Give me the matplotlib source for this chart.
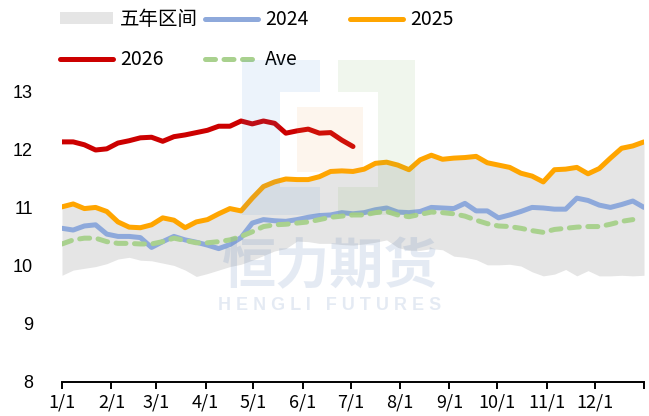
import numpy as np
import pandas as pd
import matplotlib
matplotlib.use("Agg")
import matplotlib.pyplot as plt
from matplotlib.patches import Polygon, Rectangle

# weekly prices, week 0 = Jan 1
band_high = [11.02, 11.07, 10.99, 11.01, 10.94, 10.76, 10.67, 10.66, 10.71, 10.83,
             10.79, 10.66, 10.76, 10.80, 10.90, 10.99, 10.95, 11.17, 11.37, 11.45,
             11.50, 11.49, 11.49, 11.54, 11.63, 11.64, 11.63, 11.67, 11.77, 11.79,
             11.74, 11.66, 11.83, 11.91, 11.84, 11.86, 11.87, 11.89, 11.78, 11.74,
             11.70, 11.60, 11.55, 11.45, 11.66, 11.67, 11.70, 11.59, 11.68, 11.86,
             12.03, 12.07, 12.14]
band_low = [9.84, 9.93, 9.96, 9.99, 10.04, 10.12, 10.15, 10.10, 10.09, 10.05,
            10.01, 9.93, 9.82, 9.87, 9.93, 9.99, 10.03, 10.10, 10.18, 10.26,
            10.30, 10.43, 10.42, 10.39, 10.39, 10.37, 10.36, 10.38, 10.41, 10.45,
            10.32, 10.27, 10.27, 10.30, 10.28, 10.17, 10.15, 10.11, 10.02, 10.02,
            10.03, 10.00, 9.90, 9.83, 9.86, 9.94, 9.83, 9.92, 9.83, 9.83,
            9.84, 9.83, 9.84]
s2024 = [10.65, 10.62, 10.69, 10.71, 10.55, 10.51, 10.51, 10.49, 10.32, 10.42,
         10.51, 10.45, 10.41, 10.36, 10.30, 10.37, 10.49, 10.74, 10.80, 10.78,
         10.77, 10.80, 10.84, 10.87, 10.88, 10.92, 10.90, 10.92, 10.97, 11.00,
         10.93, 10.92, 10.94, 11.01, 11.00, 10.99, 11.08, 10.95, 10.95, 10.83,
         10.88, 10.94, 11.01, 11.00, 10.98, 10.98, 11.17, 11.13, 11.05, 11.01,
         11.06, 11.12, 11.01]
s2025 = [11.02, 11.07, 10.99, 11.01, 10.94, 10.76, 10.67, 10.66, 10.71, 10.83,
         10.79, 10.66, 10.76, 10.80, 10.90, 10.99, 10.95, 11.17, 11.37, 11.45,
         11.50, 11.49, 11.49, 11.54, 11.63, 11.64, 11.63, 11.67, 11.77, 11.79,
         11.74, 11.66, 11.83, 11.91, 11.84, 11.86, 11.87, 11.89, 11.78, 11.74,
         11.70, 11.60, 11.55, 11.45, 11.66, 11.67, 11.70, 11.59, 11.68, 11.86,
         12.03, 12.07, 12.14]
s2026 = [12.14, 12.14, 12.09, 12.00, 12.02, 12.12, 12.16, 12.21, 12.22, 12.15,
         12.23, 12.26, 12.30, 12.34, 12.41, 12.41, 12.50, 12.45, 12.50, 12.46,
         12.29, 12.33, 12.36, 12.29, 12.30, 12.17, 12.06]
ave = [10.38, 10.45, 10.48, 10.48, 10.42, 10.39, 10.39, 10.38, 10.38, 10.42,
       10.48, 10.44, 10.40, 10.40, 10.42, 10.45, 10.51, 10.59, 10.68, 10.71,
       10.72, 10.74, 10.76, 10.80, 10.84, 10.86, 10.88, 10.88, 10.92, 10.94,
       10.88, 10.85, 10.89, 10.93, 10.92, 10.90, 10.86, 10.79, 10.73, 10.69,
       10.68, 10.65, 10.61, 10.58, 10.63, 10.65, 10.67, 10.68, 10.68, 10.72,
       10.77, 10.80]
month_labels = ["1/1", "2/1", "3/1", "4/1", "5/1", "6/1",
                "7/1", "8/1", "9/1", "10/1", "11/1", "12/1"]

cjk = ["Noto Sans CJK SC", "DejaVu Sans"]

# week index -> day of year
days = np.arange(len(band_high)) * 365 / 52
month_days = list(pd.date_range("2025-01-01", periods=12, freq="MS").dayofyear - 1) + [365]

fig = plt.figure(figsize=(6.49, 4.16), dpi=100)
ax = fig.add_axes([62 / 649, 1 - 382 / 416, 582 / 649, 290 / 416])

band = ax.fill_between(days, band_low, band_high, color="#E5E5E5", lw=0, zorder=1,
                       label="五年区间")
l24, = ax.plot(days[:len(s2024)], s2024, color="#8EA9DB", lw=3.6,
               solid_capstyle="round", zorder=3, label="2024")
l25, = ax.plot(days[:len(s2025)], s2025, color="#FFA500", lw=3.6,
               solid_capstyle="round", zorder=4, label="2025")
l26, = ax.plot(days[:len(s2026)], s2026, color="#CC0000", lw=3.6,
               solid_capstyle="round", zorder=5, label="2026")
lave, = ax.plot(days[:len(ave)], ave, color="#A9D18E", lw=3.6, dashes=(2.0, 1.7),
                dash_capstyle="round", zorder=3, label="Ave")

ax.set_xlim(0, 365)
ax.set_ylim(8, 13)
ax.set_xticks(month_days)
ax.set_xticklabels(month_labels + [""], fontfamily=cjk, fontsize=13)
ax.set_yticks([8, 9, 10, 11, 12, 13])
ax.set_yticklabels(["8", "9", "10", "11", "12", "13"], fontfamily="Liberation Sans",
                   fontsize=13)
ax.tick_params(axis="x", direction="out", length=5, width=1.4, pad=3, color="black")
ax.tick_params(axis="y", length=0, pad=21)
for side in ["top", "right", "left"]:
    ax.spines[side].set_visible(False)
ax.spines["bottom"].set_linewidth(1.4)
ax.spines["bottom"].set_color("black")
ax.set_facecolor("none")

# legend: three columns of equal width
leg_kw = dict(loc="upper left", frameon=False, borderpad=0, borderaxespad=0,
              handlelength=2.75, handletextpad=0.35, handleheight=0.55,
              labelspacing=1.0, prop={"family": cjk, "size": 14},
              bbox_transform=fig.transFigure)
top = 1 - 9 / 416
fig.legend([band, l26], ["五年区间", "2026"], bbox_to_anchor=(60 / 649, top), **leg_kw)
fig.legend([l24, lave], ["2024", "Ave"], bbox_to_anchor=(205 / 649, top), **leg_kw)
fig.legend([l25], ["2025"], bbox_to_anchor=(350 / 649, top), **leg_kw)

# company watermark
def px(x, y):
    return (x / 649, 1 - y / 416)

blue_shape = [px(242, 60), px(320, 60), px(320, 92), px(280, 92), px(280, 187),
              px(320, 187), px(320, 215), px(242, 215)]
green_shape = [px(338, 60), px(415, 60), px(415, 215), px(338, 215), px(338, 187),
               px(378, 187), px(378, 92), px(338, 92)]
fig.patches.append(Polygon(blue_shape, closed=True, transform=fig.transFigure,
                           facecolor="#4A90D9", alpha=0.1, lw=0, zorder=10))
fig.patches.append(Polygon(green_shape, closed=True, transform=fig.transFigure,
                           facecolor="#70B050", alpha=0.1, lw=0, zorder=10))
fig.patches.append(Rectangle(px(297, 172), 66 / 649, 65 / 416, transform=fig.transFigure,
                             facecolor="#F0A050", alpha=0.1, lw=0, zorder=10))
fig.text(330 / 649, 1 - 268 / 416, "恒力期货", family=cjk, fontsize=39,
         fontweight="bold", color="#5078B4", alpha=0.15, ha="center", va="center",
         zorder=10)
fig.text(330 / 649, 1 - 306 / 416, "H E N G L I   F U T U R E S",
         family="Liberation Sans", fontsize=13, fontweight="bold", color="#5078B4",
         alpha=0.15, ha="center", va="center", zorder=10)

fig.savefig("out.png", dpi=100)
